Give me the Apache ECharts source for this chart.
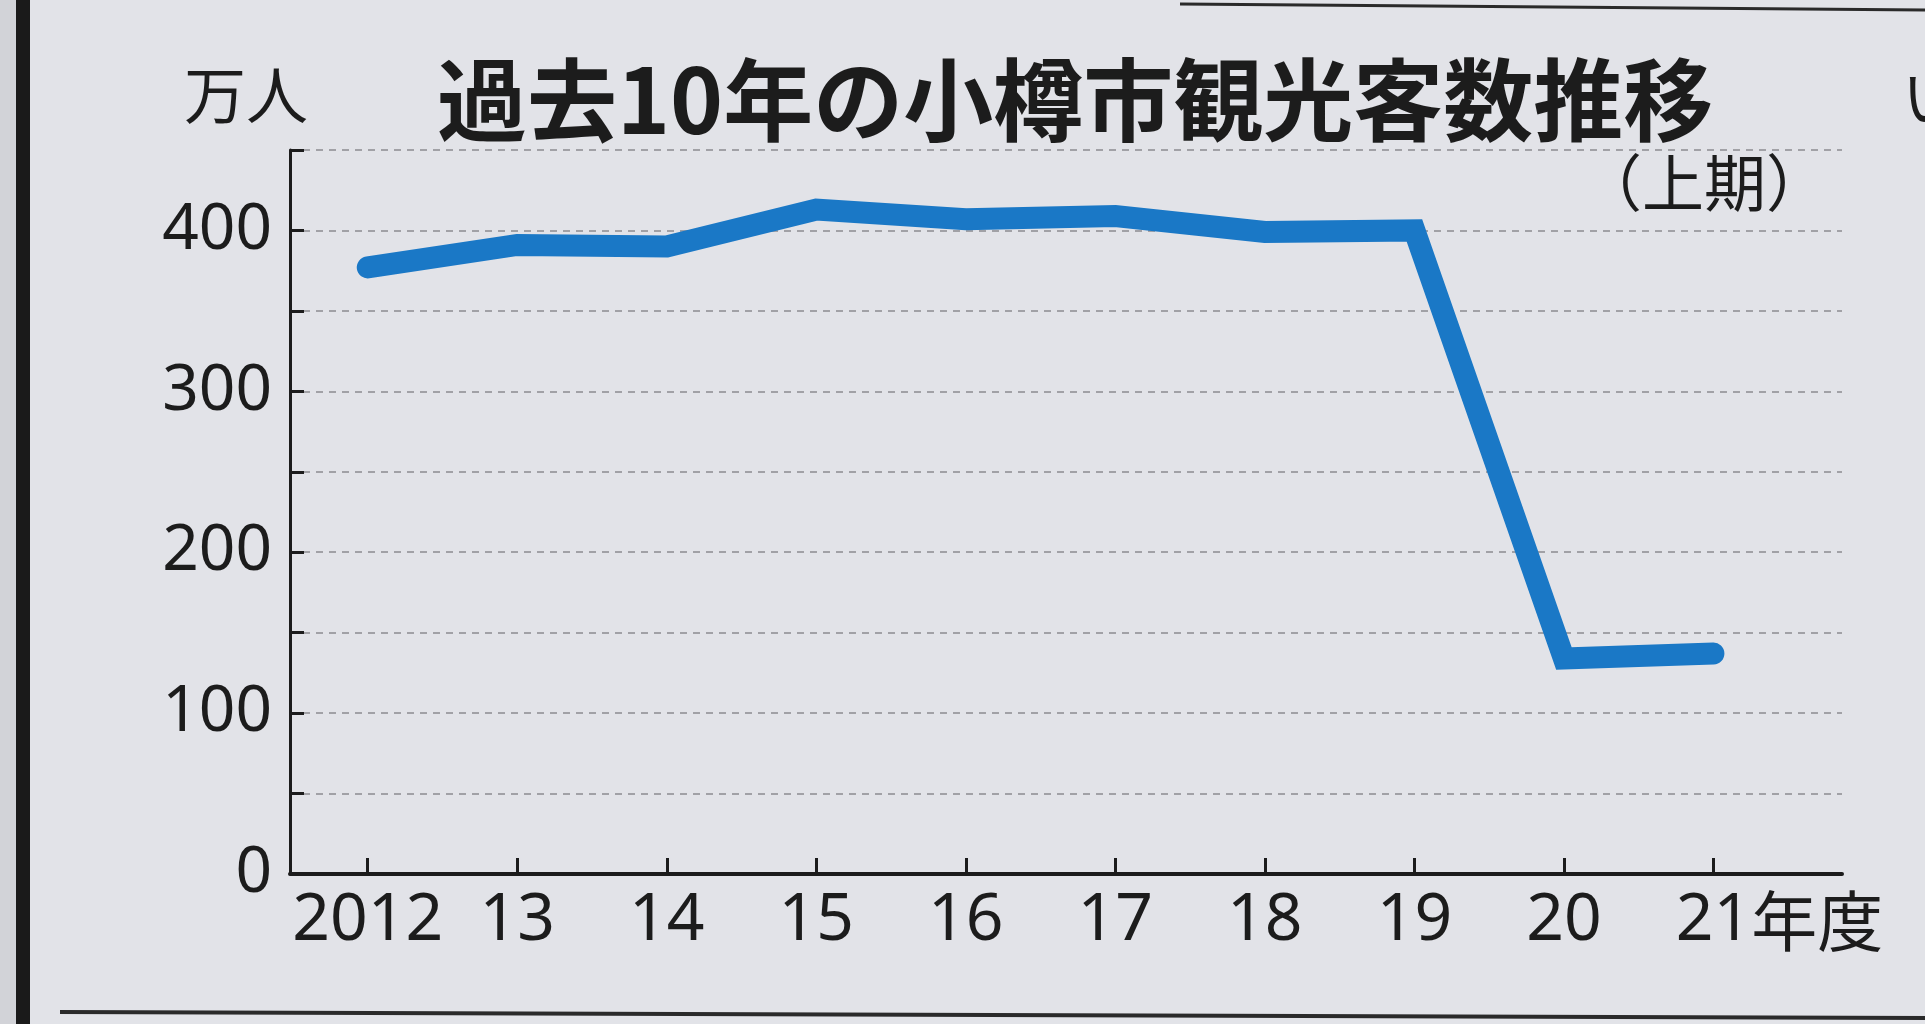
<!DOCTYPE html>
<html>
<head>
<meta charset="utf-8">
<title>過去10年の小樽市観光客数推移</title>
<script src="https://cdn.jsdelivr.net/npm/echarts@6/dist/echarts.min.js"></script>
<style>
  html, body { margin: 0; padding: 0; background: #e2e3e8; }
  #main { width: 1925px; height: 1024px; }
</style>
</head>
<body>
<div id="main"></div>
<script>
// 年度（上期）
var years = [2012, 2013, 2014, 2015, 2016, 2017, 2018, 2019, 2020, 2021]
// 観光客数（万人）
var visitors = [377, 391, 390, 413, 407, 409, 399, 400, 134, 137]
// 縦軸の目盛り（ラベルは100ごと）
var yLabels = [0, 100, 200, 300, 400]

var ink = '#1c1c1c'
var numFont = "'Noto Sans', 'Noto Sans CJK JP', sans-serif"
var jpFont = "'Noto Sans CJK JP', sans-serif"

var chart = echarts.init(document.getElementById('main'))

var option = {
  backgroundColor: '#e2e3e8',
  animation: false,
  title: {
    text: '過去10年の小樽市観光客数推移',
    left: 432,
    top: 50,
    textStyle: {
      fontFamily: jpFont,
      fontSize: 90,
      fontWeight: 'bold',
      color: ink
    }
  },
  grid: {
    left: 290,
    right: 83,
    top: 150,
    bottom: 150
  },
  xAxis: {
    type: 'value',
    min: 2011.48,
    max: 2021.86,
    splitLine: { show: false },
    axisLine: { show: true, lineStyle: { color: ink, width: 4 } },
    axisTick: {
      show: true,
      inside: true,
      length: 16,
      customValues: years,
      lineStyle: { color: ink, width: 3 }
    },
    axisLabel: {
      customValues: years,
      showMinLabel: true,
      showMaxLabel: true,
      margin: 14,
      color: ink,
      fontFamily: numFont,
      fontSize: 66,
      formatter: function (v) {
        if (v === years[0]) return String(v)
        var s = String(v).slice(2)
        // 最後の年度だけ「年度」を付ける（数字を目盛りの中央に置く）
        if (v === years[years.length - 1]) return '{p|}{n|' + s + '}{u|年度}'
        return s
      },
      rich: {
        p: { width: 132, fontSize: 66 },
        n: { fontSize: 66, fontFamily: numFont, color: ink },
        u: { fontSize: 66, fontFamily: jpFont, color: ink }
      }
    }
  },
  yAxis: {
    type: 'value',
    min: 0,
    max: 450,
    interval: 50,
    axisLine: { show: true, lineStyle: { color: ink, width: 3 } },
    axisTick: {
      show: true,
      inside: true,
      length: 14,
      lineStyle: { color: ink, width: 3 }
    },
    axisLabel: {
      margin: 18,
      color: ink,
      fontFamily: numFont,
      fontSize: 64,
      formatter: function (v) {
        return yLabels.indexOf(v) >= 0 ? String(v) : ''
      }
    },
    splitLine: {
      show: true,
      lineStyle: { color: '#8c8c90', width: 1.5, type: [7, 6] }
    }
  },
  series: [
    {
      name: '観光客数',
      type: 'line',
      data: years.map(function (y, i) { return [y, visitors[i]] }),
      symbol: 'none',
      z: 5,
      lineStyle: {
        color: '#1a78c6',
        width: 22,
        cap: 'round',
        join: 'miter'
      }
    }
  ],
  graphic: [
    // 紙面の縁
    { type: 'rect', shape: { x: 0, y: 0, width: 16, height: 1024 }, style: { fill: '#d2d3d8' }, silent: true },
    { type: 'rect', shape: { x: 16, y: 0, width: 14, height: 1024 }, style: { fill: '#1a1a1a' }, silent: true },
    { type: 'line', shape: { x1: 60, y1: 1012, x2: 1925, y2: 1018 }, style: { stroke: '#2a2a2a', lineWidth: 4 }, silent: true },
    { type: 'line', shape: { x1: 1180, y1: 4, x2: 1925, y2: 10 }, style: { stroke: '#2a2a2a', lineWidth: 3 }, silent: true },
    // 単位
    {
      type: 'text', left: 184, top: 64, silent: true,
      style: { text: '万人', fontFamily: jpFont, fontSize: 62, fill: ink }
    },
    {
      type: 'text', left: 1580, top: 152, silent: true,
      style: { text: '（上期）', fontFamily: jpFont, fontSize: 62, fill: ink }
    },
    // 隣の記事の文字
    {
      type: 'text', left: 1902, top: 66, silent: true,
      style: { text: 'い', fontFamily: jpFont, fontSize: 62, fill: ink }
    }
  ]
}

chart.setOption(option)
</script>
</body>
</html>
